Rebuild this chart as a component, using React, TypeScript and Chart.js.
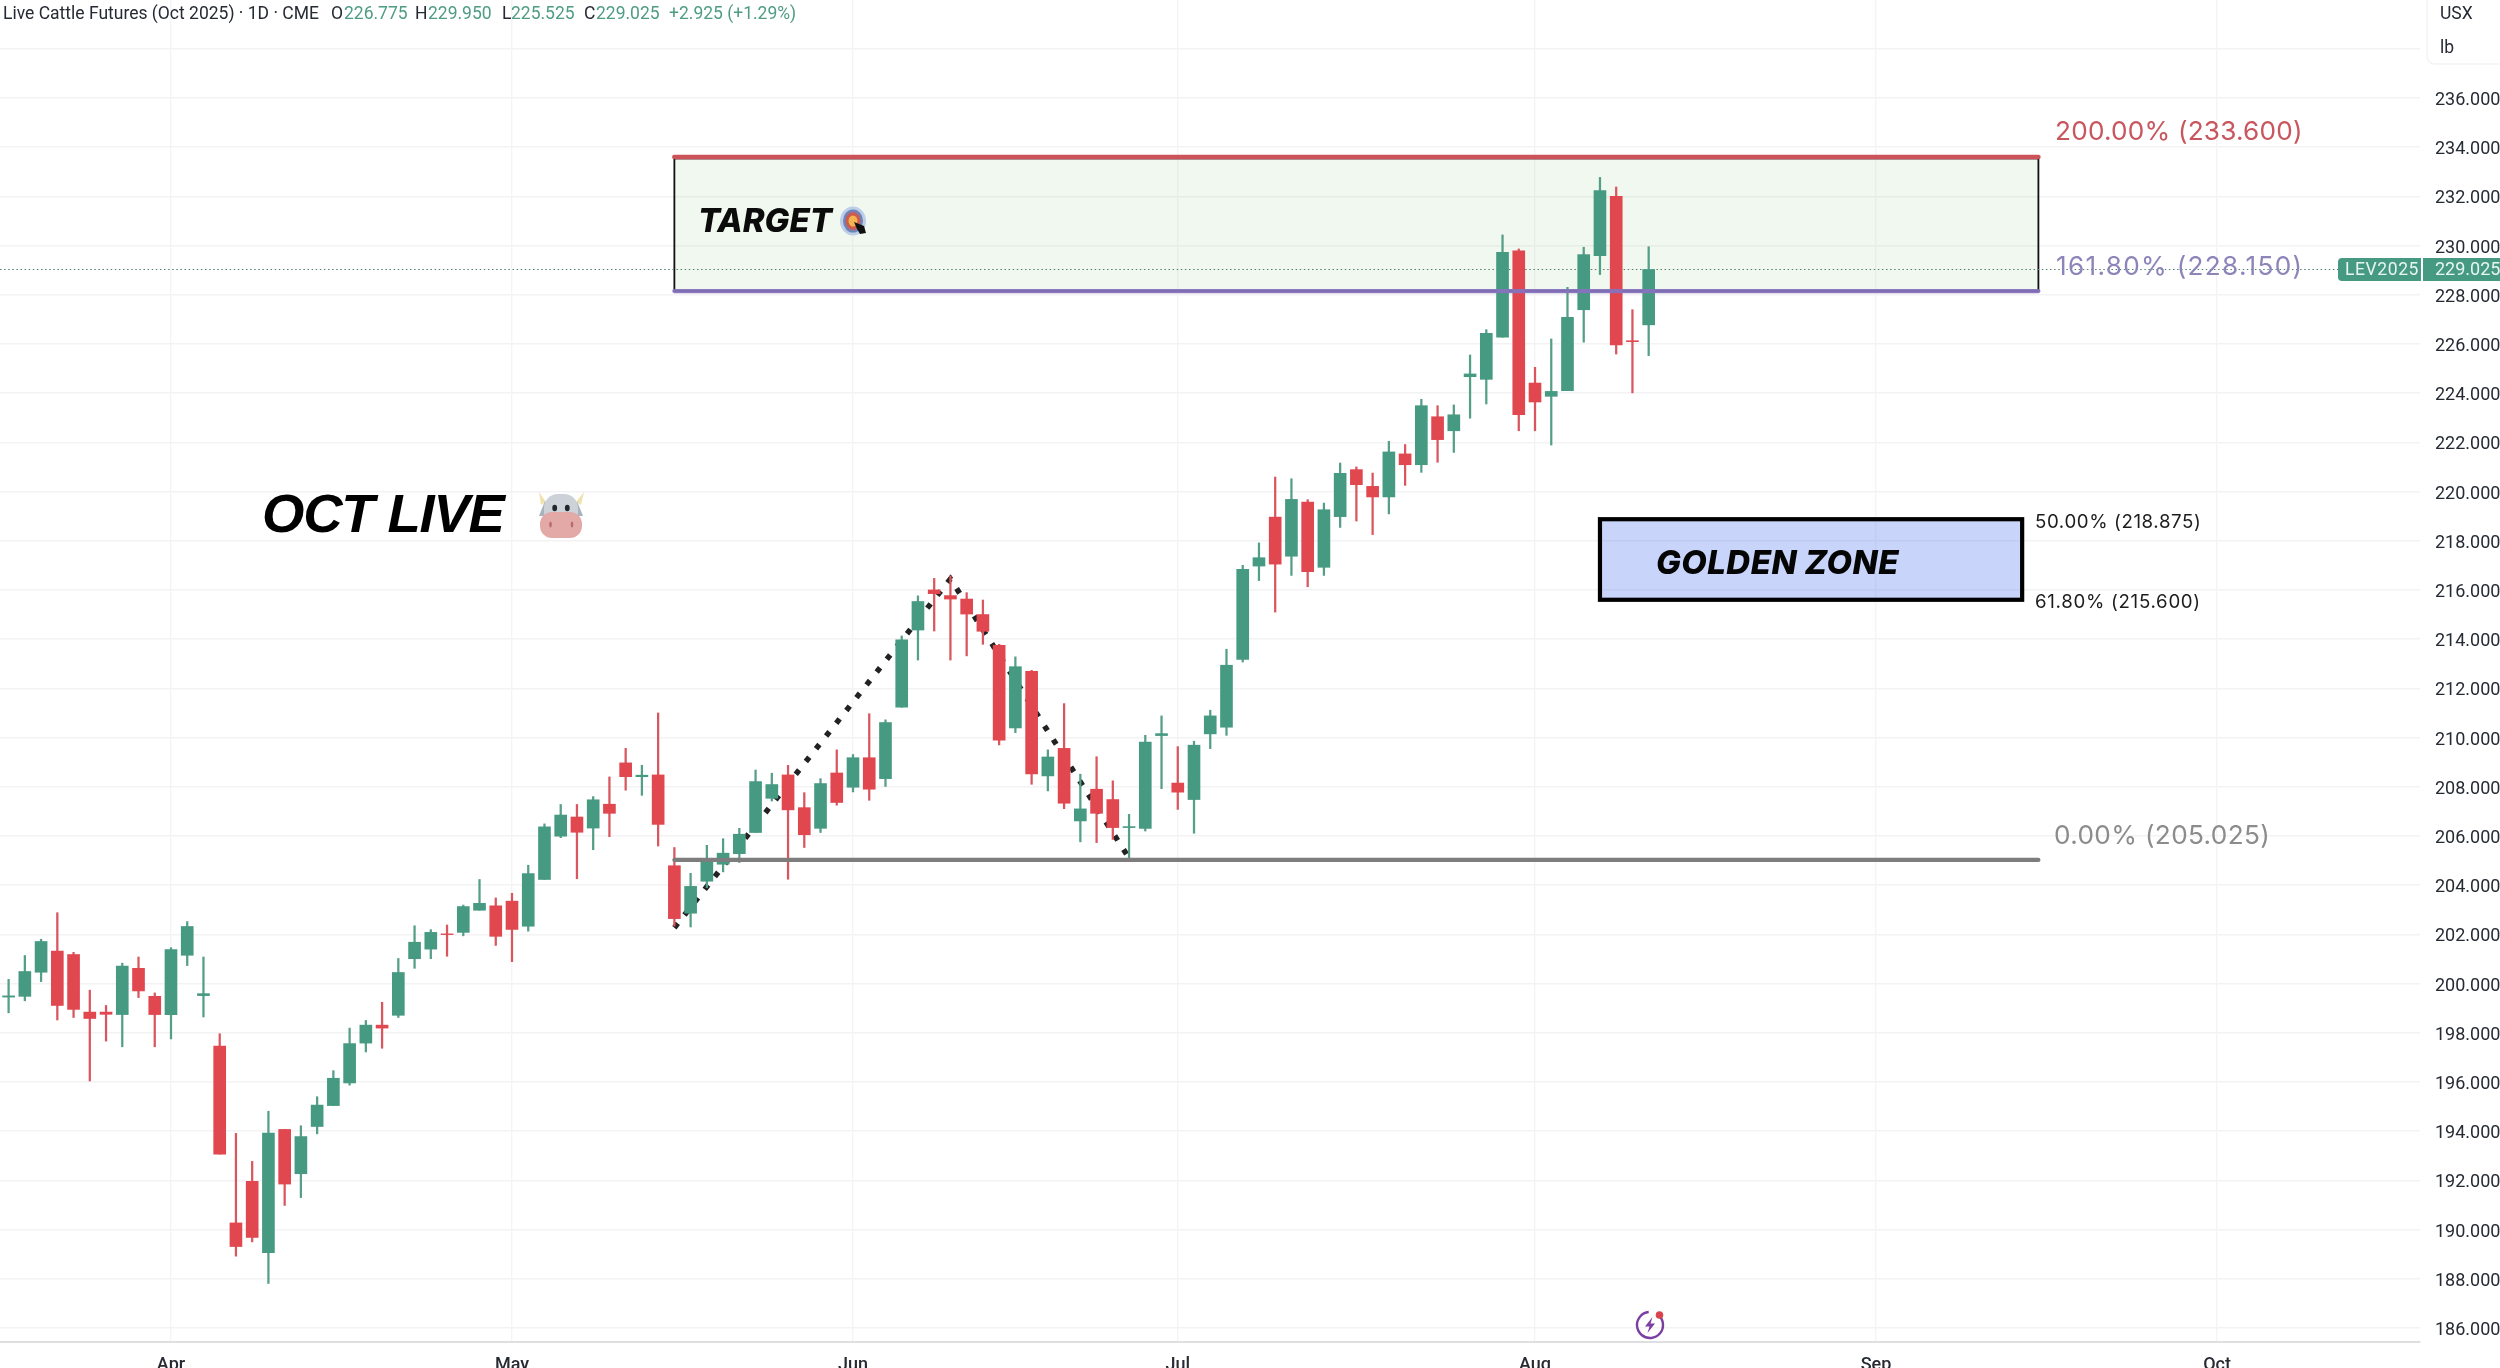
import React, { useEffect, useRef } from "react";
import { Chart, registerables } from "chart.js";

Chart.register(...registerables);

const opens = [199.45,199.48,200.46,201.32,201.18,198.84,198.84,198.74,200.62,199.48,198.74,201.15,199.51,197.46,190.27,191.96,189.06,194.07,192.27,194.19,195.04,195.96,197.58,198.31,198.71,201.01,201.40,202.02,202.08,202.98,203.16,203.35,202.33,204.23,205.99,206.77,206.32,207.29,208.97,208.41,208.48,204.79,202.86,204.16,204.85,205.28,206.14,207.53,208.48,207.15,206.31,208.56,207.98,209.18,208.33,211.23,214.37,216.0,215.77,215.63,215.0,213.75,210.39,212.69,208.44,209.56,206.61,207.90,207.48,206.34,206.31,210.08,208.15,207.48,210.15,210.42,213.18,216.97,218.96,217.37,219.57,216.92,218.98,220.89,220.21,219.78,221.53,221.09,223.04,222.47,224.67,224.56,226.27,229.78,224.41,223.87,224.10,227.39,229.59,232.0,226.13,226.775];
const highs = [200.17,201.14,201.80,202.88,201.27,199.73,199.11,200.83,201.08,199.62,201.46,202.52,201.08,197.96,193.91,192.77,194.81,194.07,194.22,195.40,196.46,198.19,198.50,199.24,201.02,202.35,202.19,202.38,203.19,204.23,203.48,203.67,204.81,206.49,207.28,207.28,207.60,208.40,209.56,208.87,211.0,205.53,204.48,205.62,205.89,206.31,208.68,208.55,208.87,207.76,208.33,209.50,209.31,210.97,210.72,214.13,215.76,216.47,216.57,215.89,215.59,213.79,213.28,212.73,209.50,211.38,208.51,209.22,208.24,206.88,210.09,210.88,209.63,209.85,211.11,213.59,217.0,217.91,220.59,220.52,219.67,219.53,221.16,221.0,220.75,222.04,221.91,223.75,223.49,223.52,225.55,226.58,230.43,229.86,225.05,226.20,228.30,229.93,232.77,232.38,227.39,229.95];
const lows = [198.81,199.30,200.08,198.52,198.62,196.04,197.66,197.43,199.43,197.43,197.75,200.73,198.64,193.07,188.92,189.50,187.81,190.98,191.30,193.89,195.04,195.87,197.22,197.37,198.62,200.62,201.01,201.11,201.94,202.98,201.55,200.89,202.13,204.23,205.93,204.26,205.44,205.97,207.86,207.65,205.59,202.34,202.30,203.90,204.54,204.92,206.14,207.42,204.24,205.53,206.14,207.25,207.79,207.45,208.01,211.23,213.15,214.33,213.15,213.32,213.79,209.70,210.20,208.10,207.83,207.11,205.76,205.73,205.86,205.05,206.20,207.92,207.08,206.11,209.55,210.09,213.07,216.38,215.10,216.59,216.13,216.59,218.54,218.80,218.25,219.09,220.25,220.78,221.19,221.59,222.98,223.56,226.27,222.47,222.47,221.89,224.10,226.07,228.82,225.59,224.01,225.525];
const closes = [199.50,200.49,201.71,199.11,198.95,198.58,198.75,200.71,199.70,198.74,201.38,202.32,199.59,193.07,189.31,189.68,193.92,191.85,193.78,195.06,196.15,197.56,198.31,198.19,200.45,201.68,202.08,201.99,203.13,203.26,201.92,202.20,204.47,206.37,206.85,206.15,207.47,206.92,208.41,208.47,206.47,202.64,203.95,205.02,205.30,206.07,208.21,208.09,207.06,206.05,208.13,207.36,209.18,207.90,210.61,213.97,215.53,215.85,215.63,215.02,214.32,209.89,212.88,208.52,209.21,207.33,207.10,206.92,206.34,206.38,209.82,210.16,207.78,209.69,210.88,212.94,216.84,217.31,217.05,219.68,216.74,219.26,220.74,220.28,219.78,221.61,221.09,223.49,222.11,223.12,224.78,226.43,229.72,223.12,223.64,224.07,227.08,229.63,232.23,225.96,226.09,229.025];

const monthLabels = ["Apr", "May", "Jun", "Jul", "Aug", "Sep", "Oct"];
const monthBars = [10, 31, 52, 72, 94, 115, 136];
const priceTicks = [186,188,190,192,194,196,198,200,202,204,206,208,210,212,214,216,218,220,222,224,226,228,230,232,234,236,238];

const swingBars = [41, 58, 69];
const swingPrices = [202.27, 216.45, 205.1];

const fibStart = 41;
const fibEnd = 125;
const fibTop = 233.6;
const fibTarget = 228.15;
const fibBase = 205.025;
const goldenStart = 98;
const goldenEnd = 124;
const goldenTop = 218.875;
const goldenBottom = 215.6;
const lastPrice = 229.025;

const GREEN = "#479a82";
const RED = "#e0474f";
const GREEN_WICK = "#559e88";
const RED_WICK = "#d9565e";

const sans = "Roboto, sans-serif";

function text(ctx: any, s: string, x: number, y: number, font: string, color: string, align = "left", spacing = "0px") {
  ctx.font = font;
  ctx.fillStyle = color;
  ctx.textAlign = align;
  ctx.textBaseline = "middle";
  ctx.letterSpacing = spacing;
  ctx.fillText(s, x, y);
  ctx.letterSpacing = "0px";
}

function ell(ctx: any, x: number, y: number, rx: number, ry: number, color: string) {
  ctx.fillStyle = color;
  ctx.beginPath();
  ctx.ellipse(x, y, rx, ry, 0, 0, Math.PI * 2);
  ctx.fill();
}

function drawCow(ctx: any, cx: number, cy: number) {
  ctx.save();
  ctx.translate(cx, cy);
  ctx.fillStyle = "#efe2ae";
  ctx.beginPath();
  ctx.moveTo(-22, -23); ctx.lineTo(-15, -13); ctx.lineTo(-20, -10); ctx.closePath(); ctx.fill();
  ctx.beginPath();
  ctx.moveTo(23, -23); ctx.lineTo(15, -13); ctx.lineTo(20, -10); ctx.closePath(); ctx.fill();
  ctx.fillStyle = "#a9b3bb";
  ctx.beginPath();
  ctx.moveTo(-16, -14); ctx.lineTo(-22, 1); ctx.lineTo(-12, 1); ctx.closePath(); ctx.fill();
  ctx.beginPath();
  ctx.moveTo(16, -14); ctx.lineTo(22, 1); ctx.lineTo(12, 1); ctx.closePath(); ctx.fill();
  ctx.fillStyle = "#ccd2d8";
  ctx.beginPath();
  ctx.roundRect(-17, -21, 34, 32, 14);
  ctx.fill();
  ctx.fillStyle = "#e3a9a7";
  ctx.beginPath();
  ctx.roundRect(-21, -3, 42, 26, 12);
  ctx.fill();
  ell(ctx, -6.3, -7, 2.4, 3.3, "#22262b");
  ell(ctx, 6.3, -7, 2.4, 3.3, "#22262b");
  ell(ctx, -10.5, 9.5, 1.3, 3, "#b96a66");
  ell(ctx, 11, 9.5, 1.3, 3, "#b96a66");
  ctx.restore();
}

function drawTarget(ctx: any, cx: number, cy: number) {
  ell(ctx, cx, cy, 13, 14.5, "#bccee8");
  ell(ctx, cx, cy, 10, 11.5, "#6f83b6");
  ell(ctx, cx, cy, 7.5, 9, "#cf5a50");
  ell(ctx, cx, cy, 4.5, 5.5, "#f2b350");
  ctx.fillStyle = "#111";
  ctx.beginPath();
  ctx.moveTo(cx + 1, cy + 1);
  ctx.lineTo(cx + 11, cy + 5);
  ctx.lineTo(cx + 13, cy + 12);
  ctx.lineTo(cx + 7, cy + 13);
  ctx.lineTo(cx + 4, cy + 8);
  ctx.closePath();
  ctx.fill();
}

function drawBolt(ctx: any, cx: number, cy: number) {
  ctx.strokeStyle = "#7a3fa3";
  ctx.lineWidth = 2.4;
  ctx.beginPath();
  ctx.arc(cx, cy, 13, -Math.PI * 0.28, Math.PI * 1.5 - 0.1);
  ctx.stroke();
  ctx.fillStyle = "#7a3fa3";
  ctx.beginPath();
  ctx.moveTo(cx + 2.5, cy - 8);
  ctx.lineTo(cx - 5, cy + 1.5);
  ctx.lineTo(cx - 0.5, cy + 1.5);
  ctx.lineTo(cx - 2.5, cy + 8);
  ctx.lineTo(cx + 5, cy - 1.5);
  ctx.lineTo(cx + 0.5, cy - 1.5);
  ctx.closePath();
  ctx.fill();
  ell(ctx, cx + 9.5, cy - 10, 3.8, 3.8, "#d9444c");
}

const backgroundPlugin = {
  id: "zonesBehind",
  beforeDatasetsDraw(chart: any) {
    const { ctx, scales: { x, y } } = chart;
    const left = x.getPixelForValue(fibStart);
    const right = x.getPixelForValue(fibEnd);
    const top = y.getPixelForValue(fibTop);
    const bottom = y.getPixelForValue(fibTarget);
    ctx.save();
    ctx.fillStyle = "rgba(76,175,80,0.085)";
    ctx.fillRect(left, top, right - left, bottom - top);
    ctx.strokeStyle = "#111";
    ctx.lineWidth = 1.8;
    ctx.strokeRect(left, top + 1.5, right - left, bottom - top - 1.5);

    const gl = x.getPixelForValue(goldenStart);
    const gr = x.getPixelForValue(goldenEnd);
    const gt = y.getPixelForValue(goldenTop);
    const gb = y.getPixelForValue(goldenBottom);
    ctx.fillStyle = "rgba(41,90,230,0.26)";
    ctx.fillRect(gl, gt, gr - gl, gb - gt);
    ctx.strokeStyle = "#000";
    ctx.lineWidth = 4.2;
    ctx.strokeRect(gl, gt, gr - gl, gb - gt);

    const ly = y.getPixelForValue(lastPrice);
    ctx.strokeStyle = "#55806f";
    ctx.lineWidth = 1.2;
    ctx.setLineDash([1.5, 2.6]);
    ctx.beginPath();
    ctx.moveTo(0, ly);
    ctx.lineTo(2338, ly);
    ctx.stroke();
    ctx.restore();
  },
};

const overlayPlugin = {
  id: "labelsOnTop",
  afterDraw(chart: any) {
    const { ctx, scales: { y } } = chart;
    ctx.save();

    // header
    const head = "17.5px " + sans;
    const dark = "#262a33";
    const up = "#4f9c85";
    text(ctx, "Live Cattle Futures (Oct 2025) · 1D · CME", 3, 15, head, dark);
    text(ctx, "O", 331, 15, head, dark);
    text(ctx, "226.775", 344, 15, head, up);
    text(ctx, "H", 415, 15, head, dark);
    text(ctx, "229.950", 428, 15, head, up);
    text(ctx, "L", 502, 15, head, dark);
    text(ctx, "225.525", 511, 15, head, up);
    text(ctx, "C", 584, 15, head, dark);
    text(ctx, "229.025", 596, 15, head, up);
    text(ctx, "+2.925 (+1.29%)", 669, 15, head, up);

    // unit panel
    ctx.fillStyle = "#fff";
    ctx.strokeStyle = "#f3f3f4";
    ctx.lineWidth = 1.5;
    ctx.beginPath();
    ctx.roundRect(2427, -10, 90, 74, 8);
    ctx.fill();
    ctx.stroke();
    text(ctx, "USX", 2440, 15, "17.5px " + sans, "#262a33");
    text(ctx, "lb", 2440, 49, "17.5px " + sans, "#262a33");

    // fibonacci labels
    const fibFont = "26.2px Inter";
    text(ctx, "200.00% (233.600)", 2055, 132, fibFont, "#c9565e", "left", "0.2px");
    text(ctx, "161.80% (228.150)", 2056, 267, fibFont, "#8d84ba", "left", "1.3px");
    text(ctx, "0.00% (205.025)", 2054, 836, fibFont, "#8c8c8c", "left", "0.35px");
    text(ctx, "50.00% (218.875)", 2035, 522, "18.7px Inter", "#1c1c1c", "left", "0.6px");
    text(ctx, "61.80% (215.600)", 2035, 602.5, "18.7px Inter", "#1c1c1c", "left", "0.7px");

    // drawn captions
    text(ctx, "OCT LIVE", 262, 517, "italic bold 54.5px 'Liberation Sans'", "#000", "left", "-1.2px");
    text(ctx, "TARGET", 698, 222, "italic 800 33px Inter", "#0b0b0b");
    text(ctx, "GOLDEN ZONE", 1656, 564.5, "italic 800 33px Inter", "#050505", "left", "0.45px");
    drawCow(ctx, 561, 515);
    drawTarget(ctx, 853, 221);
    drawBolt(ctx, 1650, 1325);

    // last price tag
    const ly = y.getPixelForValue(lastPrice);
    ctx.fillStyle = "#479a82";
    ctx.beginPath();
    ctx.roundRect(2338, ly - 11.5, 83, 23, [4, 0, 0, 4]);
    ctx.fill();
    ctx.fillRect(2423, ly - 11.5, 77, 23);
    text(ctx, "LEV2025", 2345, ly + 1, "17.5px " + sans, "#e8f5f0", "left", "0.6px");
    text(ctx, "229.025", 2435, ly + 1, "18px " + sans, "#e8f5f0");
    ctx.restore();
  },
};

export default function App() {
  const ref = useRef<HTMLCanvasElement | null>(null);

  useEffect(() => {
    const idx = closes.map((_, i) => i);
    const colors = idx.map((i) => (closes[i] >= opens[i] ? GREEN : RED));
    const wickColors = idx.map((i) => (closes[i] >= opens[i] ? GREEN_WICK : RED_WICK));
    const fibLine = (value: number, color: string, width: number, order: number) => ({
      type: "line" as const,
      data: [
        { x: fibStart, y: value },
        { x: fibEnd, y: value },
      ],
      borderColor: color,
      borderWidth: width,
      borderCapStyle: "round",
      pointRadius: 0,
      order,
    });

    const chart = new Chart(ref.current as HTMLCanvasElement, {
      type: "bar",
      data: {
        datasets: [
          {
            type: "line",
            data: swingBars.map((b, i) => ({ x: b, y: swingPrices[i] })),
            borderColor: "#222",
            borderWidth: 5.5,
            borderDash: [5.5, 10.8],
            pointRadius: 0,
            order: 5,
          },
          {
            type: "bar",
            data: idx.map((i) => ({ x: i, y: [lows[i], highs[i]] })),
            backgroundColor: wickColors,
            barThickness: 1.6,
            grouped: false,
            order: 4,
          },
          {
            type: "bar",
            data: idx.map((i) => ({ x: i, y: [opens[i], closes[i]] })),
            backgroundColor: colors,
            barThickness: 12,
            grouped: false,
            order: 3,
          },
          fibLine(fibBase, "#7d7d7d", 4.2, 2),
          fibLine(fibTarget, "rgba(134,115,190,0.95)", 4.2, 2),
          fibLine(fibTop, "#cc5359", 4.6, 2),
        ] as any,
      },
      options: {
        animation: false,
        responsive: false,
        maintainAspectRatio: false,
        layout: { padding: 0 },
        plugins: { legend: { display: false }, tooltip: { enabled: false } },
        scales: {
          x: {
            type: "linear",
            offset: false,
            min: -0.53,
            max: 148.5,
            afterBuildTicks: (s: any) => {
              s.ticks = monthBars.map((value) => ({ value }));
            },
            afterFit: (s: any) => {
              s.height = 26;
              s.paddingLeft = 0;
              s.paddingRight = 0;
            },
            grid: { offset: false, color: "#f4f4f6", lineWidth: 1.4, drawTicks: false },
            border: { color: "#dedfe1", width: 2 },
            ticks: {
              autoSkip: false,
              maxRotation: 0,
              padding: 13,
              color: "#262a33",
              font: { family: "Roboto", size: 18, weight: 500 },
              callback: (v: any) => monthLabels[monthBars.indexOf(Number(v))] ?? "",
            },
          },
          y: {
            type: "linear",
            position: "right",
            min: 185.43,
            max: 239.98,
            afterBuildTicks: (s: any) => {
              s.ticks = priceTicks.map((value) => ({ value }));
            },
            afterFit: (s: any) => {
              s.width = 80;
              s.paddingTop = 0;
              s.paddingBottom = 0;
            },
            grid: { color: "#f3f3f5", lineWidth: 1.5, drawTicks: false },
            border: { display: false },
            ticks: {
              autoSkip: false,
              padding: 15,
              labelOffset: 2.5,
              color: "#262a33",
              font: { family: "Roboto", size: 18 },
              callback: (v: any) => (Number(v) > 236 ? "" : Number(v).toFixed(3)),
            },
          },
        },
      },
      plugins: [backgroundPlugin, overlayPlugin],
    } as any);
    return () => chart.destroy();
  }, []);

  return (
    <div style={{ position: "absolute", left: 0, top: 0, width: 2500, height: 1368, background: "#fff", overflow: "hidden" }}>
      <canvas ref={ref} width={2500} height={1368} style={{ display: "block", width: 2500, height: 1368 }} />
    </div>
  );
}
